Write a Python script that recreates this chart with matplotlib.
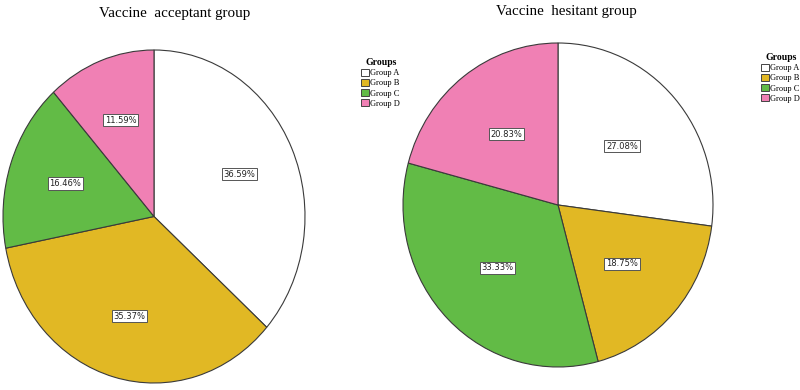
import matplotlib
matplotlib.use("Agg")
import matplotlib.pyplot as plt
from matplotlib.patches import Patch

groups = ["Group A", "Group B", "Group C", "Group D"]
acceptant = [36.59, 35.37, 16.46, 11.59]
hesitant = [27.08, 18.75, 33.33, 20.83]
colors = ["#ffffff", "#e1b824", "#62bb46", "#f080b4"]

W, H = 800, 390
fig = plt.figure(figsize=(8, 3.9), dpi=100)


def px_axes(x0, y0, x1, y1):
    # pixel box (top-left origin) -> figure fraction
    return fig.add_axes([x0 / W, 1 - y1 / H, (x1 - x0) / W, (y1 - y0) / H])


def draw_pie(ax, vals, pd):
    wedges, _, autotexts = ax.pie(
        vals, colors=colors, startangle=90, counterclock=False,
        autopct="%.2f%%", pctdistance=pd,
        wedgeprops=dict(edgecolor="#3a3a3a", linewidth=0.8),
        textprops=dict(fontsize=6, family="DejaVu Sans", color="#222222"))
    for t in autotexts:
        t.set_bbox(dict(boxstyle="square,pad=0.2", facecolor="white",
                        edgecolor="#555555", linewidth=0.7))
    ax.set_aspect("auto")
    ax.set_xlim(-1, 1)
    ax.set_ylim(-1, 1)
    ax.axis("off")


ax1 = px_axes(3, 50, 305, 383)
draw_pie(ax1, acceptant, 0.62)
ax2 = px_axes(403, 43, 713, 367)
draw_pie(ax2, hesitant, 0.55)

fig.text(175 / W, 1 - 13 / H, "Vaccine  acceptant group", ha="center", va="center",
         fontsize=10.8, family="Liberation Serif")
fig.text(566 / W, 1 - 11 / H, "Vaccine  hesitant group", ha="center", va="center",
         fontsize=10.8, family="Liberation Serif")

handles = [Patch(facecolor=c, edgecolor="#444444", linewidth=0.7) for c in colors]


def add_legend(x, y):
    leg = fig.legend(handles, groups, loc="upper left",
                     bbox_to_anchor=(x / W, 1 - y / H), frameon=False,
                     title="Groups", handlelength=0.95, handleheight=0.95,
                     handletextpad=0.15, labelspacing=0.2, borderpad=0,
                     prop=dict(family="Liberation Serif", size=6),
                     title_fontproperties=dict(family="Liberation Serif", size=7, weight="bold"))
    leg._legend_box.align = "center"


add_legend(357, 54)
add_legend(757, 49)

fig.savefig("out.png", dpi=100, facecolor="white")
